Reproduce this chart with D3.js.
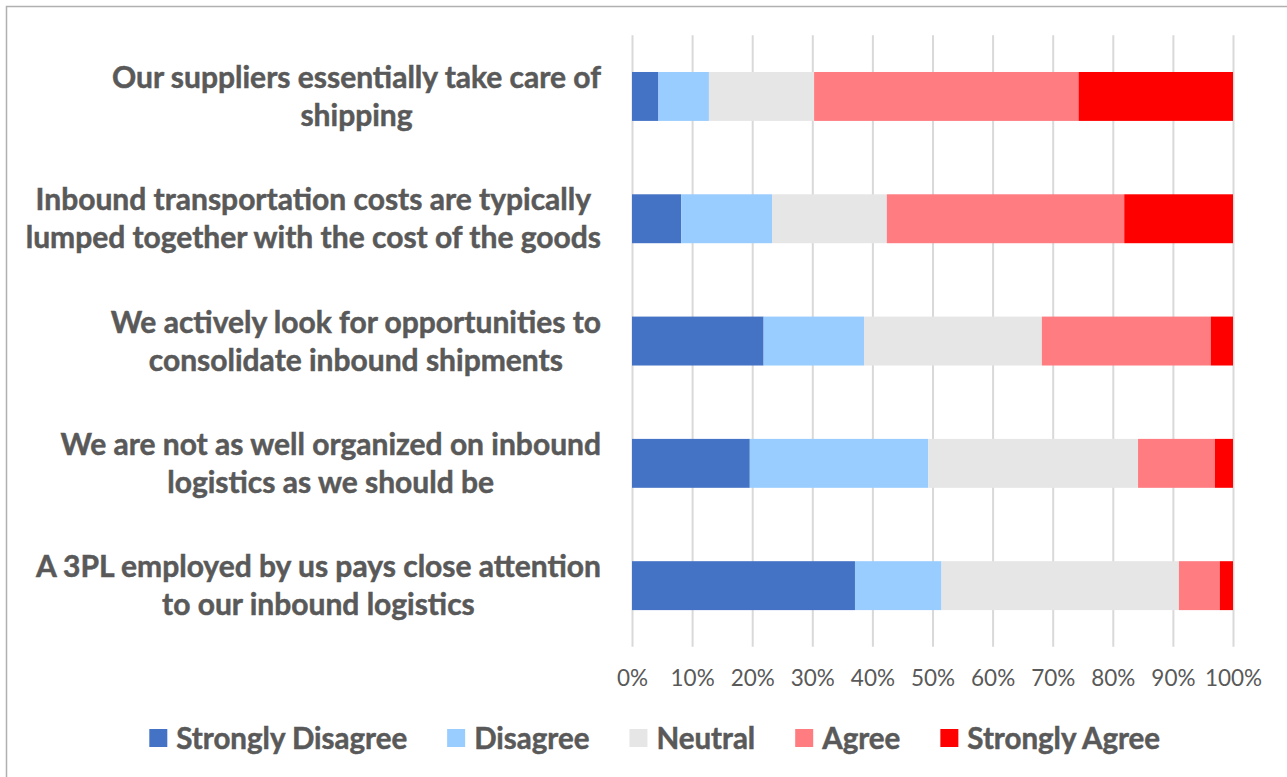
<!DOCTYPE html>
<html>
<head>
<meta charset="utf-8">
<script src="https://cdn.jsdelivr.net/npm/d3@7"></script>
<style>
    html, body { margin: 0; padding: 0; background: #fff; }
    svg { display: block; font-family: Lato, "Open Sans", sans-serif; }
</style>
</head>
<body>
<svg id="chart" width="1287" height="777"></svg>
<script>
// Categories, each split into the two lines shown on the chart
const categories = [
    ['Our suppliers essentially take care of', 'shipping'],
    ['Inbound transportation costs are typically', 'lumped together with the cost of the goods'],
    ['We actively look for opportunities to', 'consolidate inbound shipments'],
    ['We are not as well organized on inbound', 'logistics as we should be'],
    ['A 3PL employed by us pays close attention', 'to our inbound logistics']
];

// Series (percent of respondents)
const seriesNames = ['Strongly Disagree', 'Disagree', 'Neutral', 'Agree', 'Strongly Agree'];
const stronglyDisagree = [4.4, 8.2, 21.9, 19.6, 37.1];
const disagree = [8.4, 15.1, 16.7, 29.7, 14.4];
const neutral = [17.5, 19.1, 29.6, 34.9, 39.5];
const agree = [44.0, 39.5, 28.1, 12.8, 6.8];
const stronglyAgree = [25.7, 18.1, 3.7, 3.0, 2.2];

// X axis ticks
const xTicks = [0, 0.1, 0.2, 0.3, 0.4, 0.5, 0.6, 0.7, 0.8, 0.9, 1];

const colors = ['#4472C4', '#99CCFF', '#E6E6E6', '#FF7C80', '#FF0000'];
const textColor = '#595959';

const svg = d3.select('#chart');

// Plot area
const plot = { left: 632, right: 1233, top: 35.3, bottom: 646.8 };

// Build rows for stacking
const seriesValues = [stronglyDisagree, disagree, neutral, agree, stronglyAgree];
const rows = categories.map((c, i) => {
    const row = { key: i };
    seriesNames.forEach((s, j) => { row[s] = seriesValues[j][i]; });
    return row;
});

const stacked = d3.stack()
    .keys(seriesNames)
    .offset(d3.stackOffsetExpand)(rows);

// Scales
const x = d3.scaleLinear()
    .domain([0, 1])
    .range([plot.left, plot.right]);

const y = d3.scaleBand()
    .domain(d3.range(categories.length))
    .range([plot.top, plot.bottom])
    .paddingInner(0.6)
    .paddingOuter(0.3);

// Outer border (only left and top edges visible)
svg.append('rect')
    .attr('x', 6.5)
    .attr('y', 6.5)
    .attr('width', 1400)
    .attr('height', 900)
    .attr('fill', 'none')
    .attr('stroke', '#b0b0b0')
    .attr('stroke-width', 1.5);

// Gridlines + tick labels
const xAxis = d3.axisBottom(x)
    .tickValues(xTicks)
    .tickSizeInner(-(plot.bottom - plot.top))
    .tickSizeOuter(0)
    .tickFormat(d3.format('.0%'));

const axisG = svg.append('g')
    .attr('transform', `translate(0, ${plot.bottom})`)
    .call(xAxis);

axisG.select('.domain').remove();
axisG.selectAll('.tick line')
    .attr('stroke', '#d9d9d9')
    .attr('stroke-width', 2);
axisG.selectAll('.tick text')
    .attr('y', 39)
    .attr('dy', 0)
    .attr('fill', textColor)
    .style('font-size', '22.5px')
    .style('font-family', 'Lato, sans-serif');

// Bars
svg.append('g')
    .selectAll('g')
    .data(stacked)
    .join('g')
    .attr('fill', (d, i) => colors[i])
    .selectAll('rect')
    .data(d => d)
    .join('rect')
    .attr('x', d => x(d[0]))
    .attr('y', (d, i) => y(i))
    .attr('width', d => x(d[1]) - x(d[0]))
    .attr('height', y.bandwidth());

// Category labels, block right aligned, lines centered to each other
const labelRight = 601;
const labelsG = svg.append('g')
    .attr('fill', textColor)
    .attr('stroke', textColor)
    .attr('stroke-width', 0.5)
    .style('font-size', '30px')
    .style('font-weight', 700);

categories.forEach((lines, i) => {
    const cy = y(i) + y.bandwidth() / 2;
    const t = labelsG.append('text').attr('text-anchor', 'middle');
    lines.forEach((line, k) => {
        t.append('tspan')
            .attr('y', cy - 19 + k * 38 + 10.5)
            .text(line);
    });
    const w = d3.max(t.selectAll('tspan').nodes(), n => n.getComputedTextLength());
    t.selectAll('tspan').attr('x', labelRight - w / 2);
});

// Legend
const legendG = svg.append('g');
let lx = 0;
seriesNames.forEach((name, i) => {
    const item = legendG.append('g').attr('transform', `translate(${lx}, 0)`);
    item.append('rect')
        .attr('x', 0)
        .attr('y', 729)
        .attr('width', 18)
        .attr('height', 18)
        .attr('fill', colors[i]);
    const t = item.append('text')
        .attr('x', 27)
        .attr('y', 748.5)
        .attr('fill', textColor)
        .attr('stroke', textColor)
        .attr('stroke-width', 0.5)
        .style('font-size', '29.5px')
        .style('font-weight', 700)
        .text(name);
    lx += 27 + t.node().getComputedTextLength() + 40;
});
const legendWidth = lx - 40;
legendG.attr('transform', `translate(${654.7 - legendWidth / 2}, 0)`);
</script>
</body>
</html>
